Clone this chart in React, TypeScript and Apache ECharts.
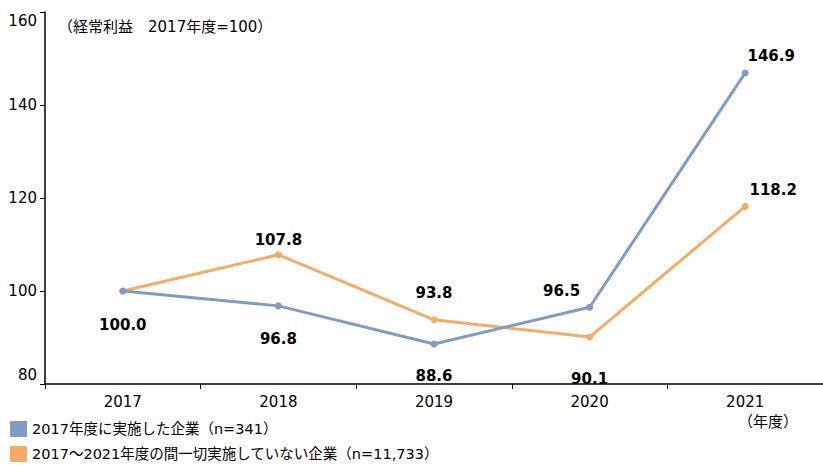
import React, { useEffect, useRef } from "react";
import * as echarts from "echarts";

const categories = ["2017", "2018", "2019", "2020", "2021"];
const blueName = "2017年度に実施した企業（n=341）";
const orangeName = "2017～2021年度の間一切実施していない企業（n=11,733）";
const blueValues = [100.0, 96.8, 88.6, 96.5, 146.9];
const orangeValues = [100.0, 107.8, 93.8, 90.1, 118.2];
const yTicks = [80, 100, 120, 140, 160];
const noteText = "（経常利益　2017年度=100）";
const unitText = "（年度）";

const BLUE = "#7E9CC4";
const ORANGE = "#F4AD66";
const FONT = "'DejaVu Sans', 'Noto Sans CJK JP', sans-serif";

const blueOffsets: [number, number][] = [[0, 34], [0, 33], [0, 32], [-28, -16], [26, -17]];
const orangeOffsets: ([number, number] | null)[] = [null, [0, -15], [0, -27], [0, 42], [28, -16]];

export default function App() {
  const ref = useRef<HTMLDivElement>(null);
  useEffect(() => {
    if (!ref.current) return;
    const chart = echarts.init(ref.current, undefined, { renderer: "svg" });
    const labelBase = {
      show: true,
      position: "inside" as const,
      color: "#000",
      fontWeight: "bold" as const,
      fontSize: 15,
      fontFamily: FONT,
      formatter: (p: any) => Number(p.value).toFixed(1),
    };
    const yMin = yTicks[0];
    const yMax = yTicks[yTicks.length - 1];
    chart.setOption({
      animation: false,
      textStyle: { fontFamily: FONT },
      grid: { left: 45, top: 12, width: 780, height: 372, containLabel: false },
      legend: {
        orient: "vertical",
        left: 10,
        top: 421,
        height: 44,
        padding: 0,
        itemWidth: 17,
        itemHeight: 16,
        itemGap: 9,
        icon: "rect",
        textStyle: { color: "#000", fontSize: 14.5, fontFamily: FONT },
        data: [blueName, orangeName],
      },
      xAxis: {
        type: "category",
        data: categories,
        boundaryGap: true,
        axisLine: { lineStyle: { color: "#000", width: 1.5 } },
        axisTick: { show: true, length: 5, lineStyle: { color: "#000" } },
        axisLabel: { color: "#000", fontSize: 15, margin: 10, fontFamily: FONT },
      },
      yAxis: {
        type: "value",
        min: yMin,
        max: yMax,
        interval: 20,
        splitLine: { show: false },
        axisLine: { show: true, lineStyle: { color: "#000", width: 1.5 } },
        axisTick: { show: true, length: 5, lineStyle: { color: "#000" } },
        axisLabel: {
          color: "#000",
          fontSize: 15,
          margin: 8,
          fontFamily: FONT,
          formatter: (v: number) =>
            v === yMax ? "{top|" + v + "}" : v === yMin ? "{bot|" + v + "}" : String(v),
          rich: {
            top: { fontSize: 15, fontFamily: FONT, color: "#000", padding: [18, 0, 0, 0] },
            bot: { fontSize: 15, fontFamily: FONT, color: "#000", padding: [0, 0, 18, 0] },
          },
        },
      },
      series: [
        {
          name: blueName,
          type: "line",
          z: 3,
          data: blueValues.map((v, i) => ({
            value: v,
            label: { ...labelBase, offset: blueOffsets[i] },
          })),
          color: BLUE,
          lineStyle: { color: BLUE, width: 3 },
          itemStyle: { color: BLUE },
          symbol: "circle",
          symbolSize: 7,
        },
        {
          name: orangeName,
          type: "line",
          z: 2,
          data: orangeValues.map((v, i) => ({
            value: v,
            label: orangeOffsets[i]
              ? { ...labelBase, offset: orangeOffsets[i] }
              : { show: false },
          })),
          color: ORANGE,
          lineStyle: { color: ORANGE, width: 3 },
          itemStyle: { color: ORANGE },
          symbol: "circle",
          symbolSize: 7,
        },
      ],
      graphic: [
        {
          type: "text",
          left: 58,
          top: 19,
          style: { text: noteText, fontSize: 15, fill: "#000", fontFamily: FONT },
        },
        {
          type: "text",
          left: 738,
          top: 414,
          style: { text: unitText, fontSize: 15, fill: "#000", fontFamily: FONT },
        },
      ],
    });
    return () => chart.dispose();
  }, []);
  return (
    <div
      ref={ref}
      style={{ position: "fixed", left: 0, top: 0, width: 823, height: 465, background: "#fff" }}
    />
  );
}
